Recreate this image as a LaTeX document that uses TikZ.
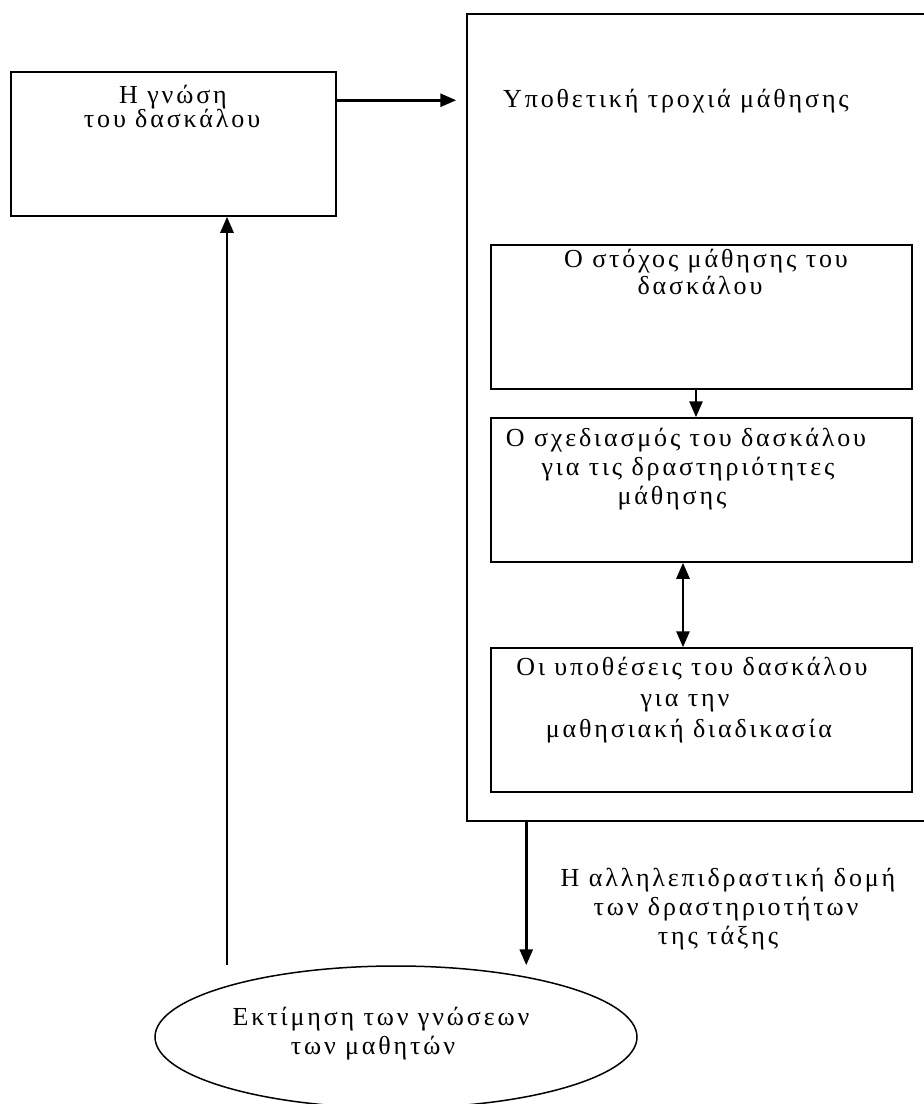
\documentclass[tikz,border=0pt]{standalone}
\usepackage{fontspec}
\setmainfont{Liberation Serif}[LetterSpace=11]
\usetikzlibrary{arrows.meta,shapes.geometric}
\begin{document}
\begin{tikzpicture}[x=1pt,y=-1pt,
  box/.style={draw,line width=1.5pt,inner sep=0pt,minimum width=421pt,minimum height=144pt},
  txt/.style={anchor=base,inner sep=0pt,font=\fontsize{26}{30}\selectfont},
  arr/.style={line width=2.8pt,-{Triangle[length=16pt,width=13pt]}},
  darr/.style={line width=2.8pt,{Triangle[length=16pt,width=13pt]}-{Triangle[length=16pt,width=13pt]}}]
\path[use as bounding box] (0,0) rectangle (924,1104);
\clip (0,0) rectangle (924,1104);
% boxes
\node[box,minimum width=325pt] (lbox) at (173.5,144) {};
\node[box,minimum width=480pt,minimum height=807pt] (big) at (707,417.5) {};
\node[box] (b1) at (701.5,317) {};
\node[box] (b2) at (701.5,490) {};
\node[box] (b3) at (701.5,720) {};
\node[draw,ellipse,line width=1.5pt,inner sep=0pt,minimum width=482pt,minimum height=142pt] (ell) at (396,1037) {};
% texts
\node[txt] (l1) at (173,103) {Η γνώση};
\node[txt] (l2) at (172,127) {του δασκάλου};
\node[txt,anchor=base west] (title) at (503,107) {Υποθετική τροχιά μάθησης};
\node[txt] (t11) at (706,267) {Ο στόχος μάθησης του};
\node[txt] (t12) at (700,294) {δασκάλου};
\node[txt] (t21) at (686,446) {Ο σχεδιασμός του δασκάλου};
\node[txt] (t22) at (688,475) {για τις δραστηριότητες};
\node[txt] (t23) at (672,504) {μάθησης};
\node[txt] (t31) at (692,675) {Οι υποθέσεις του δασκάλου};
\node[txt] (t32) at (685,706) {για την};
\node[txt] (t33) at (689,737) {μαθησιακή διαδικασία};
\node[txt] (m1) at (728,886) {Η αλληλεπιδραστική δομή};
\node[txt] (m2) at (726,915) {των δραστηριοτήτων};
\node[txt] (m3) at (718,944) {της τάξης};
\node[txt] (e1) at (381,1025) {Εκτίμηση των γνώσεων};
\node[txt] (e2) at (373,1054) {των μαθητών};
% connectors
\coordinate (a1s) at ([yshift=-29pt]lbox.north east);
\draw[arr,shorten >=10pt] (a1s) -- (a1s -| big.west);
\coordinate (a2s) at ([xshift=-5.5pt]b1.south);
\draw[arr] (a2s) -- (a2s |- b2.north);
\coordinate (a3s) at ([xshift=-18.5pt]b2.south);
\draw[darr] (a3s) -- (a3s |- b3.north);
\coordinate (a4s) at ([xshift=60pt]big.south west);
\draw[arr] (a4s) -- (a4s |- ell.north);
\coordinate (a5s) at ([xshift=53.5pt]lbox.south);
\draw[arr] (a5s |- ell.north) -- (a5s);
\end{tikzpicture}
\end{document}
